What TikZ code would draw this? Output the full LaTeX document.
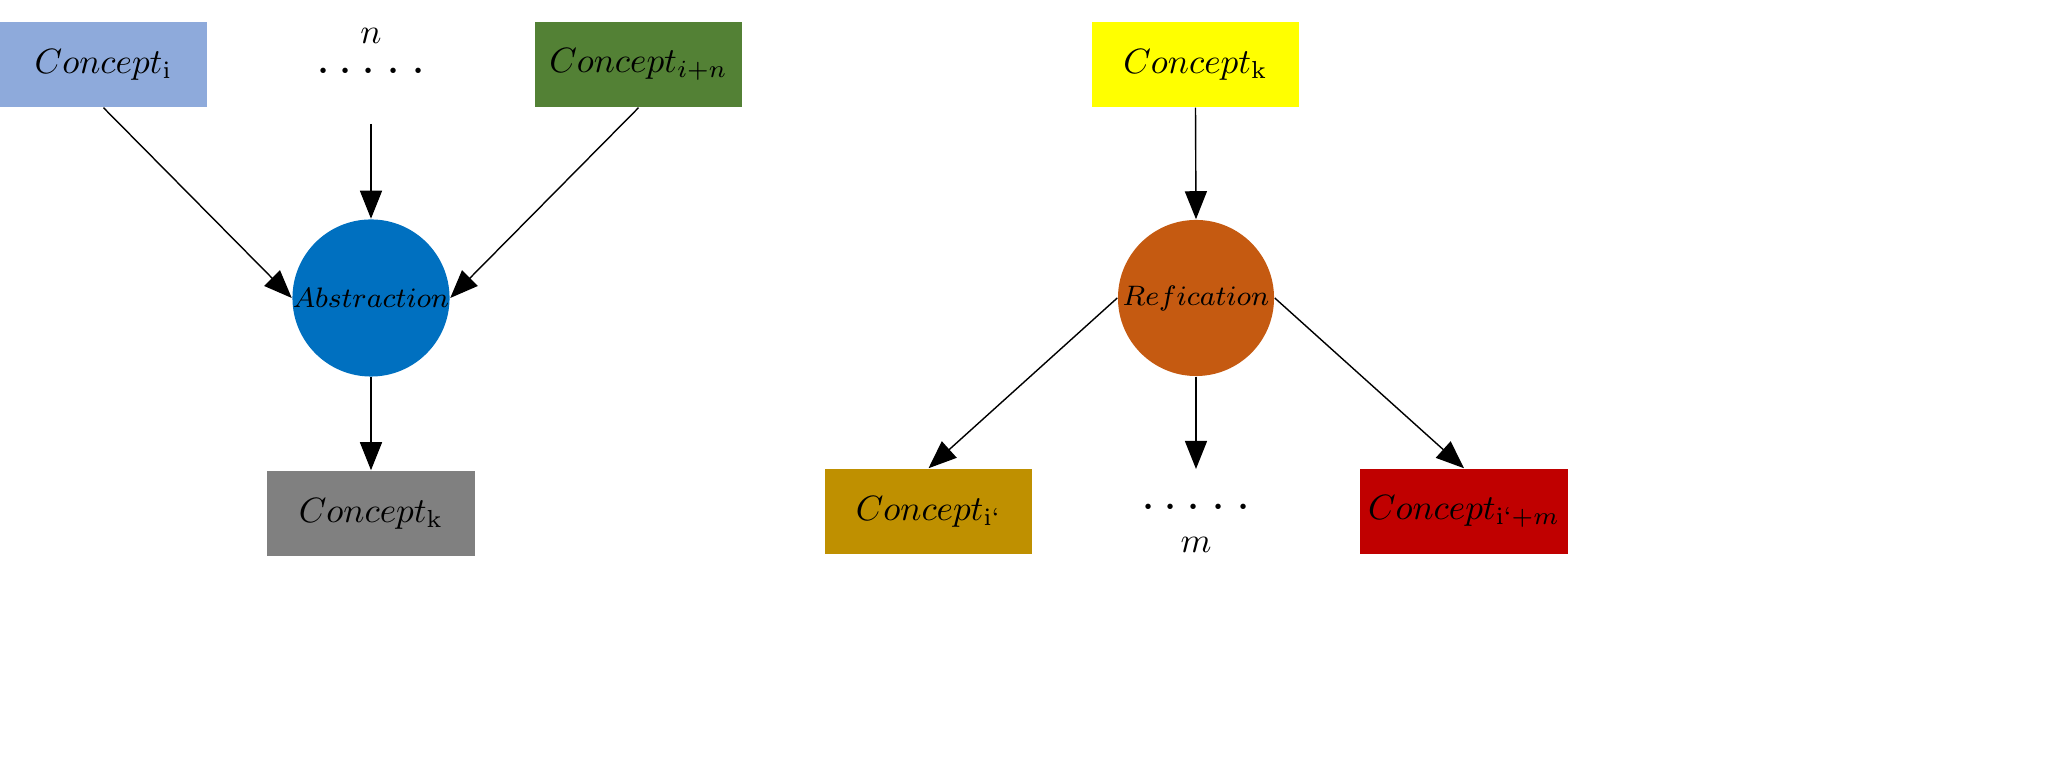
\documentclass[tikz,border=0pt]{standalone}
\usetikzlibrary{arrows.meta}
\definecolor{cblue}{HTML}{8EAADB}
\definecolor{cgreen}{HTML}{538135}
\definecolor{cdeep}{HTML}{0070C0}
\definecolor{cgray}{HTML}{808080}
\definecolor{cyellow}{HTML}{FFFF00}
\definecolor{corange}{HTML}{C55A11}
\definecolor{cgold}{HTML}{BF9000}
\definecolor{cred}{HTML}{C00000}
\begin{document}
\begin{tikzpicture}[x=0.01cm, y=-0.01cm,
            conceptbox/.style={rectangle, minimum width=2.07cm, minimum height=0.85cm, inner sep=0pt, font=\normalsize},
            opnode/.style={circle, minimum size=1.56cm, inner sep=0pt, font=\footnotesize},
            arr/.style={-{Triangle[length=0.28cm, width=0.22cm]}, thin},
        ]
        \useasboundingbox (0,0) rectangle (2048,768);
        %Left nodes
        \node[conceptbox, fill=cblue]   (ci)    at (103.5,64.5)  {$Concept_{\mathrm{i}}$};
        \node[font=\normalsize]         (n)     at (371,36)      {$n$};
        \node[font=\Large, inner sep=0pt] (dots) at (371,72)     {$\cdots\cdot\cdot$};
        \coordinate (dotsend) at (371,124);
        \node[conceptbox, fill=cgreen]  (cin)   at (638.5,64.5)  {$Concept_{i+n}$};
        \node[opnode, fill=cdeep]       (abs)   at (371,298)     {$Abstraction$};
        \node[conceptbox, fill=cgray]   (ck)    at (371,513.5)   {$Concept_{\mathrm{k}}$};
        %Right nodes
        \node[conceptbox, fill=cyellow] (cky)   at (1195.5,64.5) {$Concept_{\mathrm{k}}$};
        \node[opnode, fill=corange]     (ref)   at (1196,298)    {$Refication$};
        \node[conceptbox, fill=cgold]   (cip)   at (928.5,511.5) {$Concept_{\mathrm{i`}}$};
        \node[font=\Large, inner sep=0pt] (mdots) at (1196,508)  {$\cdots\cdot\cdot$};
        \coordinate (mdotsend) at (1196,469);
        \node[font=\normalsize]         (m)     at (1196,545)    {$m$};
        \node[conceptbox, fill=cred]    (cim)   at (1464,511.5)  {$Concept_{\mathrm{i`}+m}$};

        %Lines
        \draw[arr] (ci.south) -- (abs.west);
        \draw[arr] (cin.south) -- (abs.east);
        \draw[arr] (dotsend) -- (abs.north);
        \draw[arr] (abs.south) -- (ck.north);
        \draw[arr] (cky.south) -- (ref.north);
        \draw[arr] (ref.west) -- (cip.north);
        \draw[arr] (ref.south) -- (mdotsend);
        \draw[arr] (ref.east) -- (cim.north);
    \end{tikzpicture}
\end{document}
